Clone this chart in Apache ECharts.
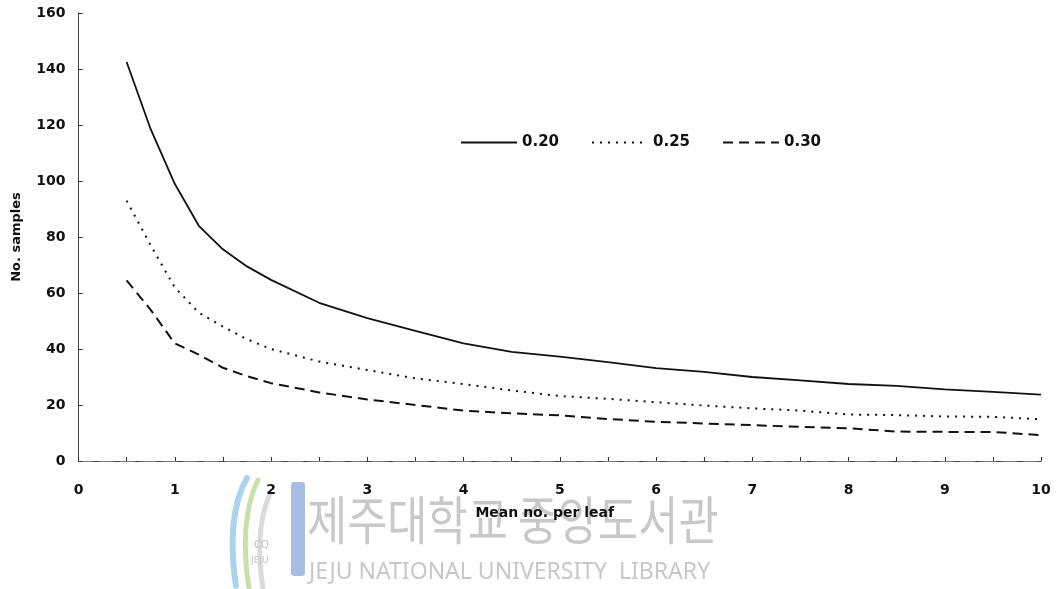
<!DOCTYPE html>
<html>
<head>
<meta charset="utf-8">
<script src="https://cdn.jsdelivr.net/npm/echarts@6/dist/echarts.min.js"></script>
<style>
  html, body { margin: 0; padding: 0; background: #ffffff; }
  #chart { width: 1064px; height: 589px; }
</style>
</head>
<body>
<div id="chart"></div>
<script>
// Mean number per leaf (x) and required number of samples for three precision levels
const meanPerLeaf = [0.5, 0.75, 1, 1.25, 1.5, 1.75, 2, 2.5, 3, 3.5, 4, 4.5, 5, 5.5, 6, 6.5, 7, 7.5, 8, 8.5, 9, 9.5, 10];
const samples020 = [142.5, 118.5, 99, 84, 75.6, 69.5, 64.7, 56.5, 51, 46.5, 42, 39, 37.3, 35.3, 33.2, 31.8, 30, 28.8, 27.5, 26.8, 25.6, 24.7, 23.7];
const samples025 = [93, 77, 62, 53, 48, 43.5, 40, 35.5, 32.5, 29.5, 27.5, 25.2, 23.2, 22.2, 21, 19.8, 18.8, 18, 16.6, 16.4, 15.9, 15.8, 14.9];
const samples030 = [64.5, 54, 42, 38, 33.3, 30.3, 27.8, 24.5, 22, 20, 18, 17, 16.3, 15, 14, 13.4, 12.8, 12.2, 11.7, 10.5, 10.4, 10.4, 9.2];
const seriesNames = ['0.20', '0.25', '0.30'];
const xTitle = 'Mean no. per leaf';
const yTitle = 'No. samples';

const FONT = '"DejaVu Sans", "Liberation Sans", Arial, sans-serif';
const pairs = ys => meanPerLeaf.map((x, i) => [x, ys[i]]);

const chart = echarts.init(document.getElementById('chart'), null, { renderer: 'canvas' });

const axisLine = { show: true, lineStyle: { color: '#444', width: 1 } };
// chart marks live on a layer above the library emblem
const TOP = 1;

// curved strokes of the library emblem
const swoosh = (x1, y1, cx1, cy1, cx2, cy2, x2, y2, color, w) => ({
  type: 'bezierCurve',
  shape: { x1: x1, y1: y1, cpx1: cx1, cpy1: cy1, cpx2: cx2, cpy2: cy2, x2: x2, y2: y2 },
  style: { fill: null, stroke: color, lineWidth: w, lineCap: 'round' }
});

chart.setOption({
  animation: false,
  backgroundColor: '#ffffff',
  grid: { left: 78.5, right: 23, top: 13, bottom: 128, containLabel: false },
  legend: {
    zlevel: TOP,
    data: seriesNames,
    left: 460,
    top: 135,
    padding: 0,
    itemWidth: 56,
    itemHeight: 14,
    itemGap: 32,
    itemStyle: { opacity: 0 },
    textStyle: { fontFamily: FONT, fontWeight: 'bold', fontSize: 15, color: '#111' }
  },
  xAxis: [
    {
      type: 'value',
      zlevel: TOP,
      min: 0, max: 10, interval: 1,
      axisLine: axisLine,
      axisTick: { show: true, inside: true, length: 4, lineStyle: { color: '#333' } },
      minorTick: { show: true, splitNumber: 2, length: 4, lineStyle: { color: '#333' } },
      splitLine: { show: false },
      axisLabel: {
        margin: 22, hideOverlap: false,
        fontFamily: FONT, fontWeight: 'bold', fontSize: 14, color: '#111'
      },
      name: xTitle,
      nameLocation: 'middle',
      nameGap: 45,
      nameTextStyle: { fontFamily: FONT, fontWeight: 'bold', fontSize: 14, color: '#111', padding: [0, 30, 0, 0] }
    },
    {
      type: 'value', position: 'top', min: 0, max: 10, zlevel: TOP,
      axisLine: { show: true, lineStyle: { color: '#777', width: 1, type: [14, 7] } },
      axisTick: { show: false }, axisLabel: { show: false }, splitLine: { show: false }
    }
  ],
  yAxis: [
    {
      type: 'value',
      zlevel: TOP,
      min: 0, max: 160, interval: 20,
      axisLine: axisLine,
      axisTick: { show: true, inside: true, length: 4, lineStyle: { color: '#333' } },
      splitLine: { show: false },
      axisLabel: { margin: 13, fontFamily: FONT, fontWeight: 'bold', fontSize: 14, color: '#111' },
      name: yTitle,
      nameLocation: 'middle',
      nameGap: 55,
      nameRotate: 90,
      nameTextStyle: { fontFamily: FONT, fontWeight: 'bold', fontSize: 13, color: '#111' }
    },
    {
      type: 'value', position: 'right', min: 0, max: 160, zlevel: TOP,
      axisLine: { show: true, lineStyle: { color: '#444', width: 1 } },
      axisTick: { show: false }, axisLabel: { show: false }, splitLine: { show: false }
    }
  ],
  series: [
    {
      name: seriesNames[0], type: 'line', data: pairs(samples020), zlevel: TOP,
      symbol: 'none', smooth: false,
      lineStyle: { color: '#111', width: 1.8, type: 'solid' },
      itemStyle: { color: '#111' }
    },
    {
      name: seriesNames[1], type: 'line', data: pairs(samples025), zlevel: TOP,
      symbol: 'none', smooth: false,
      lineStyle: { color: '#111', width: 2, type: [2, 6] },
      itemStyle: { color: '#111' }
    },
    {
      name: seriesNames[2], type: 'line', data: pairs(samples030), zlevel: TOP,
      symbol: 'none', smooth: false,
      lineStyle: { color: '#111', width: 2, type: [10, 6] },
      itemStyle: { color: '#111' }
    }
  ],
  graphic: [
    swoosh(247, 478, 233, 502, 229, 540, 236, 586, '#aad4ee', 6),
    swoosh(258, 480, 245, 506, 242, 545, 249, 588, '#c8e0aa', 5),
    swoosh(270, 494, 259, 518, 257, 552, 263, 588, '#dadada', 5),
    { type: 'rect', shape: { x: 291, y: 482, width: 14, height: 94, r: 3 },
      style: { fill: '#a9bde3' } },
    { type: 'text', left: 254, top: 540,
      style: { text: 'CQ', font: '10px "DejaVu Sans"', fill: '#c2c2c2' } },
    { type: 'text', left: 251, top: 556,
      style: { text: 'JEJU', font: '9px "DejaVu Sans"', fill: '#c2c2c2' } },
    // library name
    { type: 'text', left: 307, top: 494, scaleX: 0.84,
      style: { text: '제주대학교 중앙도서관', font: '52px "Noto Sans CJK KR"', fill: '#c8c8c8' } },
    { type: 'text', left: 309, top: 561,
      style: { text: 'JEJU NATIONAL UNIVERSITY  LIBRARY', font: '23px "Noto Sans"', fill: '#c8c8c8' } }
  ]
});
</script>
</body>
</html>
